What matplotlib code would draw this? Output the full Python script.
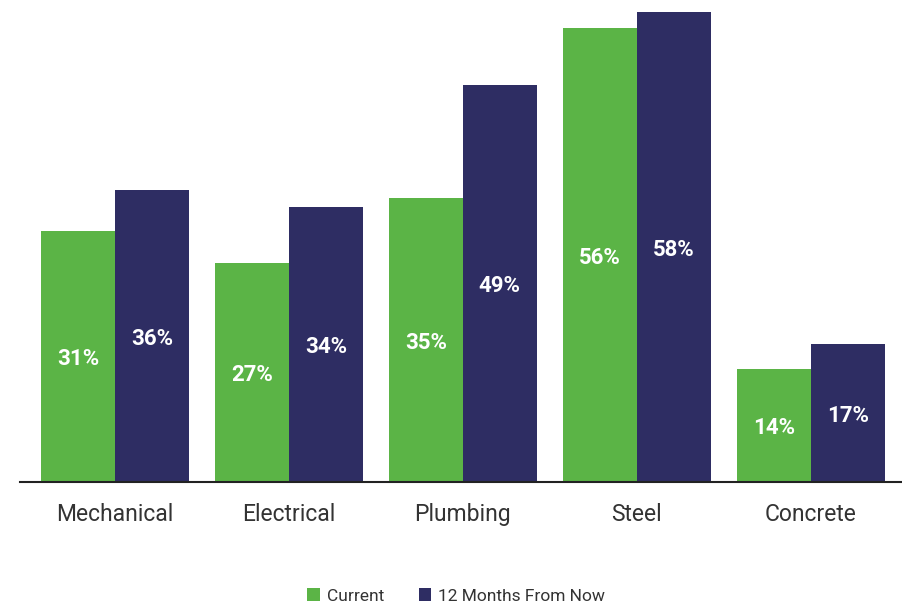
import matplotlib.pyplot as plt
import numpy as np

categories = ["Mechanical", "Electrical", "Plumbing", "Steel", "Concrete"]
current = [31, 27, 35, 56, 14]
future = [36, 34, 49, 58, 17]

GREEN = "#5bb446"
NAVY = "#2e2d63"
TEXT = "#333333"

plt.rcParams["font.family"] = ["Roboto", "DejaVu Sans"]

fig = plt.figure(figsize=(9.03, 6.05), dpi=100)
ax = fig.add_axes([20 / 903, 123 / 605, 883 / 903, 482 / 605])

x = np.arange(len(categories))
w = 0.425
b1 = ax.bar(x - w / 2, current, width=w, color=GREEN, label="Current")
b2 = ax.bar(x + w / 2, future, width=w, color=NAVY, label="12 Months From Now")

for bars, vals in ((b1, current), (b2, future)):
    for bar, v in zip(bars, vals):
        ax.text(bar.get_x() + bar.get_width() / 2, v / 2, f"{v}%",
                ha="center", va="center_baseline", color="white",
                fontsize=16, fontweight="bold")

ax.set_xlim(-0.546, 4.53)
ax.set_ylim(0, 59.5)
ax.set_yticks([])
ax.set_xticks(x)
ax.set_xticklabels(categories, fontsize=16.5, color=TEXT)
ax.tick_params(axis="x", length=0, pad=15)
for s in ("top", "right", "left"):
    ax.spines[s].set_visible(False)
ax.spines["bottom"].set_color("#222222")
ax.spines["bottom"].set_linewidth(1.5)

fig.legend(handles=[b1, b2], loc="center", bbox_to_anchor=(0.505, 0.015),
           ncol=2, frameon=False, fontsize=12.5, handlelength=0.7,
           handleheight=0.7, handletextpad=0.4, columnspacing=2.0,
           labelcolor=TEXT)

fig.savefig("out.png", dpi=100)
